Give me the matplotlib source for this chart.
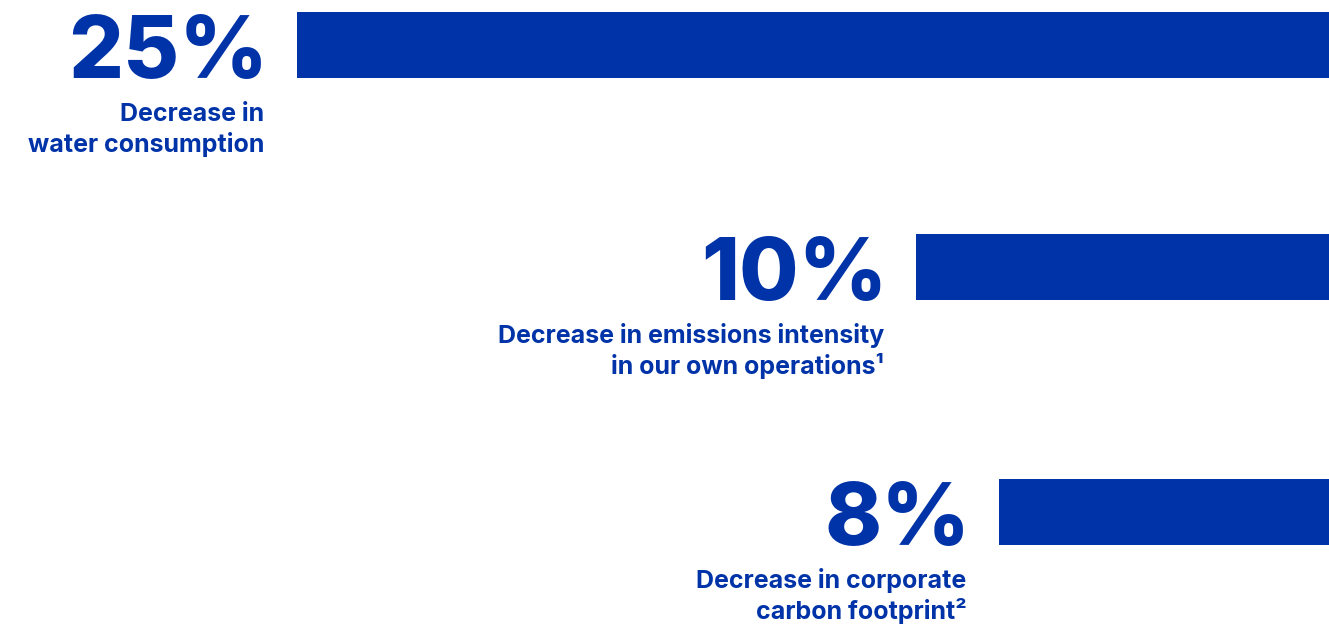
import matplotlib
matplotlib.use("Agg")
import matplotlib.pyplot as plt

# Data
values = [25, 10, 8]
value_labels = ["25%", "10%", "8%"]
descriptions = [
    ["Decrease in", "water consumption"],
    ["Decrease in emissions intensity", "in our own operations\u00b9"],
    ["Decrease in corporate", "carbon footprint\u00b2"],
]

# Layout (pixel space on y; value units on x)
W, H, DPI = 1329, 630, 100
px_per_unit = 41.3
bar_centers = [45, 267, 512]
bar_h = 66
gap_units = 0.78
num_shift_units = 0.09
color = "#0033A8"

fig = plt.figure(figsize=(W / DPI, H / DPI), dpi=DPI)
ax = fig.add_axes([0, 0, 1, 1])
ax.set_xlim(W / px_per_unit, 0)
ax.set_ylim(H, 0)
ax.axis("off")

ax.barh(bar_centers, values, height=bar_h, left=0, color=color, linewidth=0)

fam = ["Inter", "DejaVu Sans"]
for v, lab, desc, yc in zip(values, value_labels, descriptions, bar_centers):
    xr = v + gap_units
    base = yc + bar_h / 2
    ax.text(xr - num_shift_units, base, lab, ha="right", va="baseline", fontsize=62,
            fontweight="heavy", color=color, family=fam)
    for i, line in enumerate(desc):
        ax.text(xr, base + 43 + 31 * i, line, ha="right", va="baseline",
                fontsize=18, fontweight="bold", color=color, family=fam)

fig.savefig("out.png", dpi=DPI)
